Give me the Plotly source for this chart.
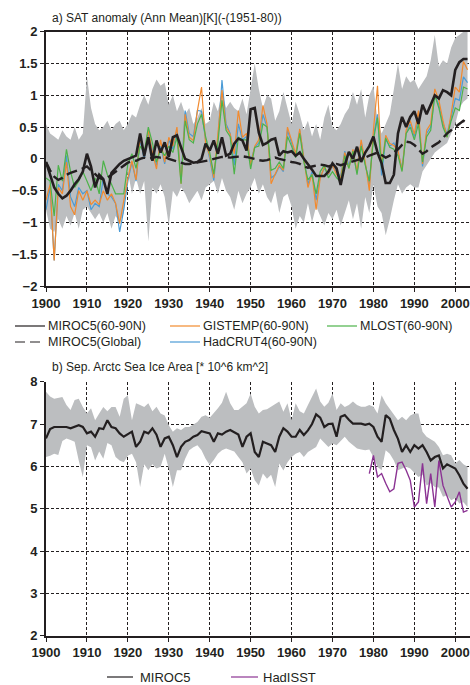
import plotly.graph_objects as go

# ---------------- data ----------------
years = list(range(1900, 2004))
tick_years = [1900, 1910, 1920, 1930, 1940, 1950, 1960, 1970, 1980, 1990, 2000]

# panel a: SAT anomaly (K)
miroc5_arctic = [
    -0.05, -0.25, -0.45, -0.55, -0.62, -0.58, -0.50, -0.40, -0.32, -0.20,
    0.08, -0.12, -0.45, -0.25, -0.32, -0.55, -0.22, -0.15, -0.08, -0.03,
    0.00, 0.03, 0.05, 0.40, 0.05, 0.34, -0.03, 0.29, 0.10, 0.26,
    0.03, 0.34, 0.37, 0.18, 0.00, -0.03, -0.06, -0.05, 0.00, 0.24,
    0.13, 0.29, 0.08, 0.34, 0.05, 0.08, 0.24, 0.32, 0.29, 0.13,
    0.78, 0.80, 0.41, 0.22, 0.25, 0.30, 0.32, 0.05, 0.12, 0.10,
    0.12, 0.05, 0.10, 0.00, -0.08, -0.17, -0.27, -0.27, -0.27, -0.20,
    -0.07, -0.15, -0.41, -0.10, 0.11, 0.00, 0.19, -0.05, 0.10, 0.20,
    0.35, 0.10, -0.07, -0.38, -0.38, -0.25, 0.40, 0.66, 0.50, 0.66,
    0.75, 0.55, 0.85, 0.70, 0.84, 1.00, 0.95, 1.08, 1.05, 1.00,
    1.40, 1.52, 1.57, 1.57]

miroc5_global = [
    -0.05, -0.18, -0.28, -0.33, -0.30, -0.25, -0.22, -0.20, -0.18, -0.15,
    -0.12, -0.18, -0.25, -0.30, -0.32, -0.30, -0.25, -0.20, -0.15, -0.10,
    -0.06, -0.04, -0.03, 0.00, 0.02, 0.00, 0.02, 0.03, 0.02, 0.03,
    0.00, -0.02, -0.05, -0.07, -0.08, -0.08, -0.07, -0.06, -0.05, -0.03,
    -0.02, 0.00, 0.02, 0.03, 0.03, 0.02, 0.03, 0.04, 0.04, 0.03,
    0.02, 0.00, -0.02, -0.03, -0.02, 0.00, 0.02, 0.00, -0.02, -0.03,
    -0.05, -0.06, -0.08, -0.12, -0.14, -0.12, -0.10, -0.09, -0.10, -0.12,
    -0.10, -0.08, -0.10, -0.08, -0.06, -0.05, -0.03, 0.00, 0.02, 0.05,
    0.08, 0.10, 0.06, 0.02, 0.05, 0.10, 0.15, 0.22, 0.27, 0.26,
    0.22, 0.15, 0.08, 0.12, 0.18, 0.22, 0.26, 0.33, 0.40, 0.45,
    0.50, 0.55, 0.60, 0.56]

miroc5_upper = [
    0.55, 0.40, 0.35, 0.30, 0.45, 0.35, 0.30, 0.50, 0.30, 0.40,
    1.30, 0.80, 0.55, 0.45, 0.50, 0.60, 0.45, 0.55, 0.60, 0.45,
    0.55, 0.70, 0.65, 0.85, 1.00, 0.85, 1.10, 1.25, 1.15, 1.20,
    0.85, 1.00, 0.75, 0.90, 0.70, 0.80, 0.55, 0.65, 0.80, 0.55,
    0.60, 0.90, 0.75, 1.05, 0.80, 0.90, 0.80, 0.75, 0.95, 0.70,
    1.10, 1.50, 1.10, 0.80, 1.00, 0.95, 0.60, 0.75, 1.05, 0.80,
    0.55, 0.90, 0.70, 0.45, 0.60, 0.35, 0.55, 0.30, 0.65, 0.85,
    0.50, 0.45, 0.55, 0.70, 0.80, 1.05, 0.85, 1.10, 0.65, 1.00,
    1.15, 0.60, 0.40, 0.55, 0.70, 1.10, 1.50, 1.10, 1.30, 1.20,
    1.25, 1.10, 1.20, 1.30, 1.55, 1.95, 1.45, 1.55, 1.50, 1.75,
    1.90, 1.95, 2.00, 2.00]

miroc5_lower = [
    -0.80, -1.10, -1.15, -0.95, -1.10, -0.90, -1.05, -0.85, -1.10, -0.80,
    -0.75, -0.85, -0.95, -0.85, -1.00, -0.85, -1.10, -0.90, -1.00, -0.85,
    -0.20, -0.55, -0.30, -0.55, -0.35, -1.30, -0.45, -0.55, -0.40, -0.60,
    -1.05, -0.50, -0.60, -0.45, -0.55, -0.70, -0.60, -0.50, -0.65, -0.45,
    -0.40, -0.35, -0.55, -0.30, -0.50, -0.60, -0.80, -0.50, -0.70, -0.55,
    -0.45, -0.30, -0.55, -0.40, -0.60, -0.70, -0.50, -0.85, -0.60, -0.55,
    -0.75, -1.10, -0.90, -1.00, -0.70, -1.00, -0.75, -0.90, -1.05, -0.85,
    -0.95, -0.80, -1.05, -0.85, -0.65, -0.95, -0.70, -1.10, -0.60, -0.85,
    -0.40, -0.75, -0.85, -1.20, -0.95, -0.65, -0.40, -0.55, -0.45, -0.40,
    -0.45, -0.45, -0.20, -0.10, 0.00, 0.10, 0.15, 0.20, 0.25, 0.40,
    0.55, 0.80, 0.90, 0.95]

gistemp = [
    -0.65, -0.40, -1.60, -0.45, -0.55, -0.05, -0.75, -0.88, -0.50, -0.65,
    -0.50, -0.72, -0.65, -0.72, -0.50, -0.65, -0.55, -0.70, -1.02, -0.65,
    -0.30, -0.03, -0.33, 0.34, 0.05, 0.45, 0.10, -0.16, 0.30, -0.05,
    0.34, 0.20, 0.50, -0.39, 0.70, 0.34, 0.29, 0.76, 1.13, 0.24,
    0.05, -0.30, 0.34, 1.08, 0.50, 0.39, 0.08, 0.76, 0.34, 0.40,
    -0.10, 0.20, 0.30, 0.84, 0.55, -0.39, -0.24, -0.10, -0.18, 0.50,
    0.29, 0.08, 0.47, 0.03, -0.45, -0.24, -0.80, -0.30, -0.13, -0.24,
    -0.10, -0.25, -0.30, 0.10, -0.15, 0.15, -0.20, 0.30, -0.05, -0.50,
    0.45, 1.15, -0.13, 0.37, 0.24, 0.21, 0.13, -0.18, 0.45, 0.60,
    0.39, 0.76, -0.08, 0.45, 0.55, 1.10, 0.92, 0.60, 0.34, 0.71,
    1.13, 1.05, 1.53, 1.40]

hadcrut4 = [
    -0.80, -0.45, -1.60, -0.40, -0.50, 0.05, -0.60, -0.75, -0.45, -0.55,
    -0.50, -0.80, -0.70, -0.75, -0.30, -0.55, -0.60, -0.70, -1.15, -0.80,
    -0.35, -0.05, -0.35, 0.30, 0.00, 0.40, 0.15, -0.10, 0.20, -0.08,
    0.30, 0.15, 0.45, -0.30, 0.76, 0.40, 0.35, 0.76, 0.75, 0.30,
    0.00, -0.34, 0.30, 1.24, 0.55, 0.40, -0.10, 0.55, 0.30, 0.35,
    -0.05, 0.18, 0.25, 0.70, 0.50, -0.30, -0.25, -0.12, -0.20, 0.45,
    0.25, 0.05, 0.45, 0.00, -0.40, -0.20, -0.65, -0.28, -0.15, -0.25,
    -0.12, -0.20, -0.28, 0.12, -0.10, 0.10, -0.22, 0.25, -0.08, -0.40,
    0.35, 0.70, -0.26, 0.30, 0.20, 0.25, 0.10, -0.15, 0.40, 0.55,
    0.35, 0.65, -0.12, 0.40, 0.50, 1.00, 0.85, 0.55, 0.40, 0.65,
    0.95, 0.92, 1.29, 1.20]

mlost = [
    -0.30, -0.35, -0.90, -0.10, -0.35, 0.15, -0.20, -0.45, -0.35, -0.20,
    -0.35, -0.50, -0.30, -0.55, -0.03, -0.25, -0.40, -0.55, -0.55, -0.55,
    -0.08, 0.08, -0.15, 0.20, 0.10, 0.50, 0.25, -0.05, 0.15, 0.05,
    0.20, 0.10, 0.35, -0.39, 0.60, 0.30, 0.25, 0.55, 0.70, 0.35,
    0.10, -0.24, 0.25, 0.92, 0.45, 0.35, -0.24, 0.34, 0.30, 0.30,
    -0.16, 0.18, 0.20, 0.55, 0.50, -0.18, -0.15, -0.05, -0.15, 0.35,
    0.20, 0.02, 0.40, -0.05, -0.33, -0.25, -0.55, -0.20, -0.10, -0.30,
    -0.20, -0.30, -0.36, 0.05, -0.15, 0.12, -0.25, 0.20, -0.10, -0.35,
    0.30, 0.65, -0.15, 0.33, 0.18, 0.15, 0.05, -0.20, 0.40, 0.50,
    0.30, 0.55, -0.05, 0.35, 0.45, 1.00, 0.80, 0.50, 0.34, 0.60,
    0.80, 0.76, 1.13, 1.10]

# panel b: September Arctic sea ice area (10^6 km^2)
ice_miroc5 = [
    6.66, 6.88, 6.93, 6.93, 6.92, 6.93, 6.90, 6.93, 6.97, 6.93,
    6.78, 6.82, 6.70, 6.90, 6.88, 7.09, 6.93, 6.90, 6.78, 6.70,
    6.76, 6.82, 6.46, 6.58, 6.82, 6.78, 6.90, 6.75, 6.46, 6.66,
    6.70, 6.50, 6.22, 6.46, 6.58, 6.62, 6.70, 6.74, 6.83, 6.80,
    6.78, 6.58, 6.78, 6.75, 6.82, 6.86, 6.80, 6.75, 6.46, 6.70,
    6.78, 6.34, 6.22, 6.58, 6.54, 6.50, 6.34, 6.70, 6.90, 6.82,
    6.70, 6.70, 6.86, 6.74, 6.85, 7.00, 7.23, 7.15, 6.93, 7.00,
    7.01, 6.70, 7.17, 7.21, 7.10, 7.01, 7.01, 7.01, 6.98, 7.01,
    6.93, 6.70, 6.58, 7.21, 7.13, 6.86, 6.65, 6.34, 6.50, 6.34,
    6.50, 6.42, 6.50, 6.34, 6.14, 6.22, 6.26, 5.95, 6.05, 6.00,
    5.95, 5.79, 5.59, 5.47]

ice_upper = [
    7.76, 7.65, 7.60, 7.62, 7.64, 7.45, 7.33, 7.57, 7.60, 7.40,
    7.25, 7.37, 7.09, 7.25, 7.40, 7.30, 7.40, 7.40, 7.17, 7.60,
    7.68, 7.09, 7.49, 7.45, 7.40, 7.49, 7.30, 7.41, 7.25, 7.20,
    6.97, 6.82, 6.90, 6.86, 6.93, 6.93, 7.00, 7.05, 7.17, 7.21,
    7.15, 7.25, 7.37, 7.50, 7.76, 7.49, 7.33, 7.33, 7.40, 7.49,
    7.72, 7.41, 7.25, 7.33, 7.35, 7.41, 7.45, 7.53, 7.29, 7.49,
    7.09, 7.49, 7.30, 7.25, 7.45, 7.64, 7.84, 7.53, 7.41, 7.50,
    7.72, 7.33, 7.49, 7.40, 7.45, 7.53, 7.45, 7.41, 7.41, 7.45,
    7.41, 7.25, 7.68, 7.49, 7.35, 7.20, 7.09, 7.17, 7.09, 7.20,
    7.25, 7.25, 6.82, 6.70, 6.65, 6.58, 6.46, 6.26, 6.30, 6.26,
    6.07, 6.15, 6.05, 5.99]

ice_lower = [
    6.22, 6.25, 6.30, 6.27, 6.60, 6.66, 6.62, 6.58, 6.14, 5.75,
    6.50, 6.45, 6.14, 6.35, 6.18, 6.55, 6.50, 6.22, 6.14, 6.10,
    6.25, 6.30, 6.10, 5.51, 6.05, 5.91, 6.05, 5.95, 5.99, 6.30,
    5.95, 5.51, 5.91, 5.91, 6.18, 6.38, 6.45, 6.50, 6.38, 6.18,
    6.03, 6.15, 6.30, 6.38, 6.42, 6.38, 6.35, 6.22, 6.10, 5.83,
    5.95, 5.67, 5.55, 5.83, 5.71, 5.80, 5.51, 6.07, 5.90, 6.10,
    6.22, 6.30, 6.34, 6.22, 6.34, 6.40, 6.46, 6.66, 6.55, 6.46,
    6.54, 6.50, 6.60, 6.70, 6.58, 6.50, 6.42, 6.40, 6.38, 6.40,
    6.22, 5.99, 5.91, 6.38, 6.30, 6.14, 5.91, 5.95, 5.99, 5.95,
    5.85, 5.75, 5.80, 5.55, 5.60, 5.51, 5.50, 5.28, 5.32, 5.20,
    5.25, 5.12, 5.15, 5.04]

hadisst_years = list(range(1979, 2004))
hadisst = [
    5.83, 6.26, 5.75, 5.83, 5.60, 5.40, 5.47, 6.07, 6.10, 5.91,
    5.67, 5.04, 5.16, 6.07, 5.12, 5.83, 5.04, 6.14, 5.55, 5.28,
    5.04, 5.16, 5.40, 4.92, 4.96]

title_a = "a) SAT anomaly (Ann Mean)[K](-(1951-80))"
title_b = "b) Sep. Arctc Sea Ice Area [* 10^6 km^2]"
legend_a = ["MIROC5(60-90N)", "GISTEMP(60-90N)", "MLOST(60-90N)",
            "MIROC5(Global)", "HadCRUT4(60-90N)"]
legend_b = ["MIROC5", "HadISST"]

# ---------------- style ----------------
WF, HF = 470, 685
LM = 46
BLACK = "#231f20"
GRAY = "#bcbec0"
ORANGE = "#f28a2e"
BLUE = "#4b9bd6"
GREEN = "#4db34a"
PURPLE = "#8b3393"
TXTFONT = "Liberation Sans, Arial, sans-serif"
TICKFONT = dict(family="Liberation Sans, Arial, sans-serif", size=13, color=BLACK, weight="bold")


def fx(p):
    return (p - LM) / (WF - LM)


def fy(p):
    return 1 - p / HF


fig = go.Figure()

# panel a
fig.add_trace(go.Scatter(x=years, y=miroc5_upper, mode="lines", line=dict(width=0),
                         showlegend=False, hoverinfo="skip", xaxis="x", yaxis="y"))
fig.add_trace(go.Scatter(x=years, y=miroc5_lower, mode="lines", line=dict(width=0),
                         fill="tonexty", fillcolor=GRAY, showlegend=False,
                         hoverinfo="skip", xaxis="x", yaxis="y"))
fig.add_trace(go.Scatter(x=years, y=hadcrut4, mode="lines", line=dict(color=BLUE, width=1.2),
                         name=legend_a[4], xaxis="x", yaxis="y"))
fig.add_trace(go.Scatter(x=years, y=gistemp, mode="lines", line=dict(color=ORANGE, width=1.2),
                         name=legend_a[1], xaxis="x", yaxis="y"))
fig.add_trace(go.Scatter(x=years, y=mlost, mode="lines", line=dict(color=GREEN, width=1.2),
                         name=legend_a[2], xaxis="x", yaxis="y"))
fig.add_trace(go.Scatter(x=years, y=miroc5_global, mode="lines",
                         line=dict(color=BLACK, width=2.4, dash="11px,5px"),
                         name=legend_a[3], xaxis="x", yaxis="y"))
fig.add_trace(go.Scatter(x=years, y=miroc5_arctic, mode="lines", line=dict(color=BLACK, width=2.6),
                         name=legend_a[0], xaxis="x", yaxis="y"))

# panel b
fig.add_trace(go.Scatter(x=years, y=ice_upper, mode="lines", line=dict(width=0),
                         showlegend=False, hoverinfo="skip", xaxis="x2", yaxis="y2"))
fig.add_trace(go.Scatter(x=years, y=ice_lower, mode="lines", line=dict(width=0),
                         fill="tonexty", fillcolor=GRAY, showlegend=False,
                         hoverinfo="skip", xaxis="x2", yaxis="y2"))
fig.add_trace(go.Scatter(x=hadisst_years, y=hadisst, mode="lines", line=dict(color=PURPLE, width=1.4),
                         name=legend_b[1], xaxis="x2", yaxis="y2"))
fig.add_trace(go.Scatter(x=years, y=ice_miroc5, mode="lines", line=dict(color=BLACK, width=2.2),
                         name=legend_b[0], xaxis="x2", yaxis="y2"))

xcommon = dict(range=[1900, 2003.6], tickvals=tick_years, ticktext=[str(t) for t in tick_years],
               showgrid=True, gridcolor=BLACK, gridwidth=1.3, griddash="3px,2px",
               showline=True, linecolor=BLACK, linewidth=2, ticks="outside", ticklen=4,
               tickcolor=BLACK, tickwidth=1.3, tickfont=TICKFONT, zeroline=False,
               automargin=False, ticklabeloverflow="allow")
ycommon = dict(showgrid=True, gridcolor=BLACK, gridwidth=1.3, griddash="3px,2px",
               showline=True, linecolor=BLACK, linewidth=2, ticks="outside", ticklen=4,
               tickcolor=BLACK, tickwidth=1.3, tickfont=TICKFONT, zeroline=False,
               automargin=False)

fig.update_layout(
    width=WF, height=HF,
    margin=dict(l=LM, r=0, t=0, b=0, autoexpand=False),
    paper_bgcolor="white", plot_bgcolor="white",
    showlegend=False,
    xaxis=dict(domain=[0, 1], anchor="y", mirror=True, **xcommon),
    xaxis2=dict(domain=[0, 1], anchor="y2", **xcommon),
    yaxis=dict(domain=[fy(286), fy(31.7)], anchor="x", range=[-2, 2], dtick=0.5, **ycommon),
    yaxis2=dict(domain=[fy(635.7), fy(381.7)], anchor="x2", range=[2, 8], dtick=1, **ycommon),
)

annotations = []
shapes = []


def add_text(txt, xpix, ypix, size=12.5):
    annotations.append(dict(text=txt, xref="paper", yref="paper", x=fx(xpix), y=fy(ypix),
                            xanchor="left", yanchor="middle", showarrow=False, borderpad=0,
                            font=dict(family=TXTFONT, size=size, color=BLACK)))


def add_line(x0, x1, ypix, color, dash="solid", width=1.2):
    shapes.append(dict(type="line", xref="paper", yref="paper", x0=fx(x0), x1=fx(x1),
                       y0=fy(ypix), y1=fy(ypix), line=dict(color=color, width=width, dash=dash)))


add_text(title_a, 51, 18, 12)
add_text(title_b, 51, 367, 12)

# legend panel a
r1, r2 = 326, 342
add_line(15, 45, r1, BLACK)
add_text(legend_a[0], 47, r1)
add_line(170, 200, r1, ORANGE)
add_text(legend_a[1], 202, r1)
add_line(327, 357, r1, GREEN)
add_text(legend_a[2], 359, r1)
add_line(15, 45, r2, BLACK, dash="10px,5px")
add_text(legend_a[3], 47, r2)
add_line(170, 200, r2, BLUE)
add_text(legend_a[4], 202, r2)

# legend panel b
rb = 677
add_line(107, 133, rb, BLACK)
add_text(legend_b[0], 139, rb, 13)
add_line(231, 258, rb, PURPLE)
add_text(legend_b[1], 262, rb, 13)

fig.update_layout(annotations=annotations, shapes=shapes)
fig.write_html(
    "out.html",
    config={"displayModeBar": False},
    post_script="document.body.style.margin='0px';"
                "document.documentElement.style.overflow='hidden';"
                "document.body.style.overflow='hidden';",
)
